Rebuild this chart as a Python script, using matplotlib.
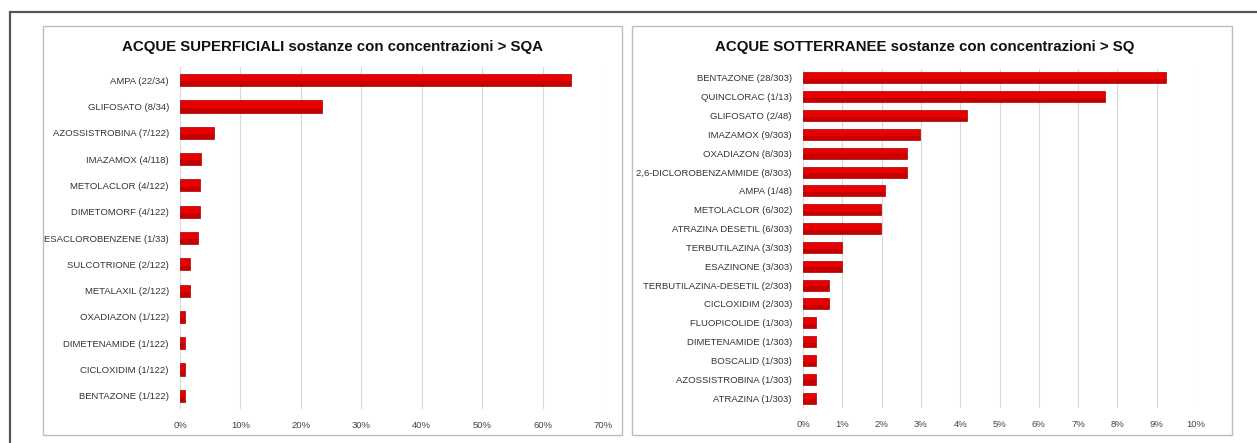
import matplotlib
matplotlib.use("Agg")
import matplotlib.pyplot as plt
from matplotlib.patches import Rectangle
from matplotlib.ticker import PercentFormatter, MultipleLocator
from matplotlib import font_manager

# ---------------- data ----------------
sup_labels = ["AMPA (22/34)", "GLIFOSATO (8/34)", "AZOSSISTROBINA (7/122)", "IMAZAMOX (4/118)",
              "METOLACLOR (4/122)", "DIMETOMORF (4/122)", "ESACLOROBENZENE (1/33)",
              "SULCOTRIONE (2/122)", "METALAXIL (2/122)", "OXADIAZON (1/122)",
              "DIMETENAMIDE (1/122)", "CICLOXIDIM (1/122)", "BENTAZONE (1/122)"]
sup_values = [0.647, 0.235, 0.057, 0.034, 0.033, 0.033, 0.030, 0.016, 0.016,
              0.008, 0.008, 0.008, 0.008]

sott_labels = ["BENTAZONE (28/303)", "QUINCLORAC (1/13)", "GLIFOSATO (2/48)", "IMAZAMOX (9/303)",
               "OXADIAZON (8/303)", "2,6-DICLOROBENZAMMIDE (8/303)", "AMPA (1/48)",
               "METOLACLOR (6/302)", "ATRAZINA DESETIL (6/303)", "TERBUTILAZINA (3/303)",
               "ESAZINONE (3/303)", "TERBUTILAZINA-DESETIL (2/303)", "CICLOXIDIM (2/303)",
               "FLUOPICOLIDE (1/303)", "DIMETENAMIDE (1/303)", "BOSCALID (1/303)",
               "AZOSSISTROBINA (1/303)", "ATRAZINA (1/303)"]
sott_values = [0.0924, 0.0769, 0.0417, 0.0297, 0.0264, 0.0264, 0.0208, 0.0199, 0.0198,
               0.0099, 0.0099, 0.0066, 0.0066, 0.0033, 0.0033, 0.0033, 0.0033, 0.0033]

titles = ["ACQUE SUPERFICIALI sostanze con concentrazioni > SQA",
          "ACQUE SOTTERRANEE sostanze con concentrazioni > SQ"]

# ---------------- fonts ----------------
avail = {f.name for f in font_manager.fontManager.ttflist}
narrow = "Liberation Sans Narrow" if "Liberation Sans Narrow" in avail else "Liberation Sans"
plt.rcParams["font.family"] = [narrow, "DejaVu Sans"]
is_narrow = narrow == "Liberation Sans Narrow"
lab_fs = 7.5 if is_narrow else 6.8
title_fs = 12 if is_narrow else 10.8

W, H = 1257, 443
fig = plt.figure(figsize=(W / 100, H / 100), dpi=100)
fig.patch.set_facecolor("white")

def fx(px):
    return px / W

def fy(py):
    return 1 - py / H

# outer frame (cropped on right/bottom)
fig.add_artist(Rectangle((fx(10), -0.2), 1.2, fy(12) + 0.2, transform=fig.transFigure,
                         fill=False, edgecolor="#555555", linewidth=1.6, zorder=0))
# panel boxes
for x0, x1 in [(43, 622), (632, 1232)]:
    fig.add_artist(Rectangle((fx(x0), fy(435)), fx(x1) - fx(x0), fy(26) - fy(435),
                             transform=fig.transFigure, facecolor="white",
                             edgecolor="#bdbdbd", linewidth=1.0, zorder=0))

def panel(rect, labels, values, xmax, step, height, title, title_x):
    ax = fig.add_axes(rect)
    ax.set_facecolor("none")
    y = list(range(len(labels)))
    ax.barh(y, values, height=height, color="#e80000", edgecolor="#a00000",
            linewidth=0.5, zorder=3)
    # darker lower part of each bar (gradient look)
    shade_h = height * 0.4
    y_low = [v + height / 2 - shade_h / 2 for v in y]
    ax.barh(y_low, values, height=shade_h, color="#a80000", alpha=0.55,
            linewidth=0, zorder=4)
    ax.set_yticks(y)
    ax.set_yticklabels(labels, fontsize=lab_fs, color="#333333")
    ax.set_ylim(len(labels) - 0.5, -0.5)
    ax.set_xlim(0, xmax)
    ax.xaxis.set_major_locator(MultipleLocator(step))
    ax.xaxis.set_major_formatter(PercentFormatter(1.0, decimals=0))
    ax.tick_params(axis="x", labelsize=lab_fs, colors="#444444", length=0, pad=9)
    ax.tick_params(axis="y", length=0, pad=8)
    ax.grid(axis="x", color="#d9d9d9", linewidth=0.8, zorder=0)
    for s in ax.spines.values():
        s.set_visible(False)
    fig.text(fx(title_x), fy(47), title, ha="center", va="center",
             fontsize=title_fs, fontweight="bold", color="#111111")
    return ax

panel([fx(180), fy(409), fx(603) - fx(180), fy(67) - fy(409)],
      sup_labels, sup_values, 0.70, 0.10, 0.46, titles[0], 333)
panel([fx(803), fy(407.5), fx(1196) - fx(803), fy(68.5) - fy(407.5)],
      sott_labels, sott_values, 0.10, 0.01, 0.58, titles[1], 925)

fig.savefig("out.png", dpi=100)
